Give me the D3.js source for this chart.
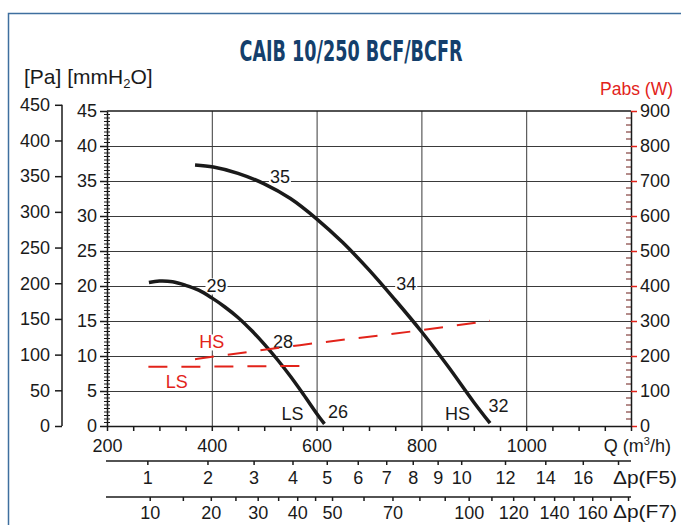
<!DOCTYPE html>
<html>
<head>
<meta charset="utf-8">
<script src="https://cdn.jsdelivr.net/npm/d3@7"></script>
<style>
  body { margin: 0; background: #fff; }
  svg { display: block; font-family: 'Liberation Sans', Arial, sans-serif; }
  .grid line { stroke: #3a3a3a; stroke-width: 1; }
  .tick text { font-size: 18px; fill: #1a1a1a; }
</style>
</head>
<body>
<div id="chart"></div>
<script>
// Fan curves, pressure in mmH2O against flow in m3/h
const hsFlow = [368, 403, 450, 500, 550, 600, 650, 700, 750, 800, 850, 900, 931]
const hsPressure = [37.3, 37.0, 36.1, 34.6, 32.5, 29.6, 26.2, 22.3, 18.0, 13.5, 8.6, 3.4, 0.4]
const lsFlow = [280, 300, 325, 350, 375, 400, 425, 450, 475, 500, 525, 550, 575, 600, 615]
const lsPressure = [20.5, 20.7, 20.6, 20.1, 19.4, 18.3, 17.0, 15.5, 13.7, 11.7, 9.5, 7.1, 4.5, 1.8, 0.3]

// Absorbed power (W)
const hsPowerFlow = [368, 568, 801, 931]
const hsPower = [191, 231, 274, 301]
const lsPowerFlow = [279, 430, 587]
const lsPower = [169, 170, 172]

// Tick values
const flowTicks = [200, 400, 600, 800, 1000]
const paTicks = [0, 50, 100, 150, 200, 250, 300, 350, 400, 450]
const mmTicks = [0, 5, 10, 15, 20, 25, 30, 35, 40, 45]
const wTicks = [0, 100, 200, 300, 400, 500, 600, 700, 800, 900]
const f5Ticks = [1, 2, 3, 4, 5, 6, 7, 8, 9, 10, 12, 14, 16, 18]
const f5Labels = [1, 2, 3, 4, 5, 6, 7, 8, 9, 10, 12, 14, 16]
const f7Ticks = [10, 15, 20, 25, 30, 35, 40, 45, 50, 60, 70, 80, 90, 100, 110, 120, 130, 140, 150, 160, 170, 180]
const f7Labels = [10, 20, 30, 40, 50, 70, 100, 120, 140, 160]

// Curve annotations (flow, mmH2O)
const notes = [
  { text: '35', q: 530, h: 35.7, color: '#1a1a1a' },
  { text: '29', q: 409, h: 20.0, color: '#1a1a1a' },
  { text: '28', q: 536, h: 12.0, color: '#1a1a1a' },
  { text: '34', q: 771, h: 20.3, color: '#1a1a1a' },
  { text: '26', q: 641, h: 2.0, color: '#1a1a1a' },
  { text: '32', q: 947, h: 2.9, color: '#1a1a1a' },
  { text: 'LS', q: 554, h: 1.8, color: '#1a1a1a' },
  { text: 'HS', q: 869, h: 1.8, color: '#1a1a1a' },
  { text: 'HS', q: 400, h: 12.0, color: '#e2231a' },
  { text: 'LS', q: 333, h: 6.3, color: '#e2231a' }
]

const red = '#e2231a'
const width = 681
const height = 525
const plot = { left: 107, right: 631, top: 111, bottom: 426 }

const svg = d3.select('#chart')
  .append('svg')
  .attr('width', width)
  .attr('height', height)

// Blue frame
svg.append('path')
  .attr('d', `M8.5,${height} V13.5 H${width}`)
  .attr('fill', 'none')
  .attr('stroke', '#3f6f9f')
  .attr('stroke-width', 1.5)

// Scales
const x = d3.scaleLinear().domain([200, 1200]).range([plot.left, plot.right])
const y = d3.scaleLinear().domain([0, 45]).range([plot.bottom, plot.top])
const yPa = d3.scaleLinear().domain([0, 45 * 9.80665]).range([plot.bottom, plot.top])
const yW = d3.scaleLinear().domain([0, 900]).range([plot.bottom, plot.top])
// Δp grows with the square of the flow
const xF5 = d3.scaleSqrt().domain([0, (1200 / 277) ** 2]).range([x(0), x(1200)])
const xF7 = d3.scaleSqrt().domain([0, 10 * (1200 / 281.5) ** 2]).range([x(0), x(1200)])

// Title
svg.append('text')
  .attr('x', 351)
  .attr('y', 61)
  .attr('text-anchor', 'middle')
  .attr('textLength', 223)
  .attr('lengthAdjust', 'spacingAndGlyphs')
  .style('font-family', "'Liberation Sans Narrow', 'DejaVu Sans Condensed', 'Liberation Sans', sans-serif")
  .style('font-weight', 'bold')
  .style('font-size', '28px')
  .attr('fill', '#143f6c')
  .text('CAIB 10/250 BCF/BCFR')

const unit = svg.append('text')
  .attr('x', 24)
  .attr('y', 84)
  .style('font-size', '21px')
  .attr('fill', '#1a1a1a')
unit.append('tspan').text('[Pa] [mmH')
unit.append('tspan').attr('dy', 4).style('font-size', '13px').text('2')
unit.append('tspan').attr('dy', -4).text('O]')

svg.append('text')
  .attr('x', 673)
  .attr('y', 95)
  .attr('text-anchor', 'end')
  .style('font-size', '17.5px')
  .attr('fill', red)
  .text('Pabs (W)')

// Horizontal gridlines
svg.append('g')
  .attr('class', 'grid')
  .attr('transform', `translate(${plot.left}, 0)`)
  .call(d3.axisLeft(y).tickValues(d3.range(5, 45, 5)).tickSize(-(plot.right - plot.left)).tickFormat(''))
  .call(g => g.select('.domain').remove())

// Vertical gridlines
svg.append('g')
  .attr('class', 'grid')
  .attr('transform', `translate(0, ${plot.top})`)
  .call(d3.axisBottom(x).tickValues([400, 600, 800, 1000]).tickSize(plot.bottom - plot.top).tickFormat(''))
  .call(g => g.select('.domain').remove())

// Top frame line
svg.append('line')
  .attr('x1', plot.left).attr('x2', plot.right)
  .attr('y1', plot.top).attr('y2', plot.top)
  .attr('stroke', '#1a1a1a').attr('stroke-width', 1.5)

// Pa axis (outer left)
svg.append('g')
  .attr('transform', 'translate(62, 0)')
  .call(d3.axisLeft(yPa).tickValues(paTicks).tickSize(7).tickPadding(5).tickSizeOuter(0))
  .call(g => g.select('.domain').attr('d', `M0,${yPa(0)}V${yPa(450)}`))
  .call(g => g.selectAll('line, path').attr('stroke', '#1a1a1a').attr('stroke-width', 1.5))

// mmH2O minor ticks
svg.append('g')
  .selectAll('line')
  .data(d3.range(0, 45.01, 0.5).filter(d => d % 5 !== 0))
  .join('line')
  .attr('x1', plot.left - 3).attr('x2', plot.left + 3)
  .attr('y1', d => y(d)).attr('y2', d => y(d))
  .attr('stroke', '#1a1a1a')

// mmH2O axis
svg.append('g')
  .attr('transform', `translate(${plot.left}, 0)`)
  .call(d3.axisLeft(y).tickValues(mmTicks).tickSize(7).tickPadding(3).tickSizeOuter(0))
  .call(g => g.selectAll('line, path').attr('stroke', '#1a1a1a').attr('stroke-width', 1.5))

// Power axis minor ticks
svg.append('g')
  .selectAll('line')
  .data(d3.range(0, 901, 20).filter(d => d % 100 !== 0))
  .join('line')
  .attr('x1', plot.right - 5).attr('x2', plot.right)
  .attr('y1', d => yW(d)).attr('y2', d => yW(d))
  .attr('stroke', '#6a1a16')

// Power axis (right)
svg.append('g')
  .attr('transform', `translate(${plot.right}, 0)`)
  .call(d3.axisRight(yW).tickValues(wTicks).tickSize(6).tickPadding(3).tickSizeOuter(0))
  .call(g => g.select('.domain').attr('stroke', '#1a1a1a').attr('stroke-width', 1.5))
  .call(g => g.selectAll('.tick line').attr('stroke', red).attr('stroke-width', 1.5))
  .call(g => g.selectAll('.tick text').attr('fill', red))

// Flow axis
svg.append('g')
  .attr('transform', `translate(0, ${plot.bottom})`)
  .call(d3.axisBottom(x).tickValues(d3.range(200, 1201, 50)).tickSize(5).tickPadding(8).tickSizeOuter(0)
    .tickFormat(d => flowTicks.includes(d) ? d : ''))
  .call(g => g.selectAll('line, path').attr('stroke', '#1a1a1a').attr('stroke-width', 1.5))

const qLabel = svg.append('text')
  .attr('x', 671)
  .attr('y', 452)
  .attr('text-anchor', 'end')
  .style('font-size', '18px')
  .attr('fill', '#1a1a1a')
qLabel.append('tspan').text('Q (m')
qLabel.append('tspan').attr('dy', -7).style('font-size', '11px').text('3')
qLabel.append('tspan').attr('dy', 7).text('/h)')

// Δp(F5) axis
const f5Axis = svg.append('g')
  .attr('transform', 'translate(0, 461)')
  .call(d3.axisBottom(xF5).tickValues(f5Ticks).tickSize(4).tickPadding(6)
    .tickFormat(d => f5Labels.includes(d) ? d : ''))
f5Axis.select('.domain').remove()
f5Axis.append('line')
  .attr('x1', plot.left - 1).attr('x2', plot.right)
  .attr('stroke', '#1a1a1a').attr('stroke-width', 1.5)
f5Axis.selectAll('.tick line').attr('stroke', '#1a1a1a').attr('stroke-width', 1.5)

svg.append('text')
  .attr('x', 677)
  .attr('y', 484)
  .attr('text-anchor', 'end')
  .attr('textLength', 64)
  .attr('lengthAdjust', 'spacingAndGlyphs')
  .style('font-size', '19px')
  .attr('fill', '#1a1a1a')
  .text('Δp(F5)')

// Δp(F7) axis
const f7Axis = svg.append('g')
  .attr('transform', 'translate(0, 497)')
  .call(d3.axisBottom(xF7).tickValues(f7Ticks).tickSize(4).tickPadding(5)
    .tickFormat(d => f7Labels.includes(d) ? d : ''))
f7Axis.select('.domain').remove()
f7Axis.append('line')
  .attr('x1', plot.left - 1).attr('x2', plot.right)
  .attr('stroke', '#1a1a1a').attr('stroke-width', 1.5)
f7Axis.selectAll('.tick line').attr('stroke', '#1a1a1a').attr('stroke-width', 1.5)

svg.append('text')
  .attr('x', 677)
  .attr('y', 518)
  .attr('text-anchor', 'end')
  .attr('textLength', 64)
  .attr('lengthAdjust', 'spacingAndGlyphs')
  .style('font-size', '19px')
  .attr('fill', '#1a1a1a')
  .text('Δp(F7)')

// Annotation labels, with white backgrounds that break the gridlines
const noteText = svg.append('g')
  .selectAll('text')
  .data(notes)
  .join('text')
  .attr('x', d => x(d.q))
  .attr('y', d => y(d.h))
  .attr('dy', '0.36em')
  .attr('text-anchor', 'middle')
  .style('font-size', '18px')
  .attr('fill', d => d.color)
  .text(d => d.text)

noteText.each(function () {
  const b = this.getBBox()
  d3.select(this.parentNode).insert('rect', 'text')
    .attr('x', b.x - 1).attr('y', b.y + 2)
    .attr('width', b.width + 2).attr('height', b.height - 4)
    .attr('fill', '#fff')
})

// Pressure curves
const pressureLine = d3.line()
  .x(d => x(d[0]))
  .y(d => y(d[1]))
  .curve(d3.curveCatmullRom.alpha(0.5))

svg.append('path')
  .datum(d3.zip(hsFlow, hsPressure))
  .attr('d', pressureLine)
  .attr('fill', 'none')
  .attr('stroke', '#1a1a1a')
  .attr('stroke-width', 3.5)

svg.append('path')
  .datum(d3.zip(lsFlow, lsPressure))
  .attr('d', pressureLine)
  .attr('fill', 'none')
  .attr('stroke', '#1a1a1a')
  .attr('stroke-width', 3.5)

// Power curves
const powerLine = d3.line()
  .x(d => x(d[0]))
  .y(d => yW(d[1]))
  .curve(d3.curveMonotoneX)

svg.append('path')
  .datum(d3.zip(hsPowerFlow, hsPower))
  .attr('d', powerLine)
  .attr('fill', 'none')
  .attr('stroke', red)
  .attr('stroke-width', 2)
  .attr('stroke-dasharray', '19,14')

svg.append('path')
  .datum(d3.zip(lsPowerFlow, lsPower))
  .attr('d', powerLine)
  .attr('fill', 'none')
  .attr('stroke', red)
  .attr('stroke-width', 2)
  .attr('stroke-dasharray', '19,14')

// Keep labels above the curves
noteText.raise()
</script>
</body>
</html>
